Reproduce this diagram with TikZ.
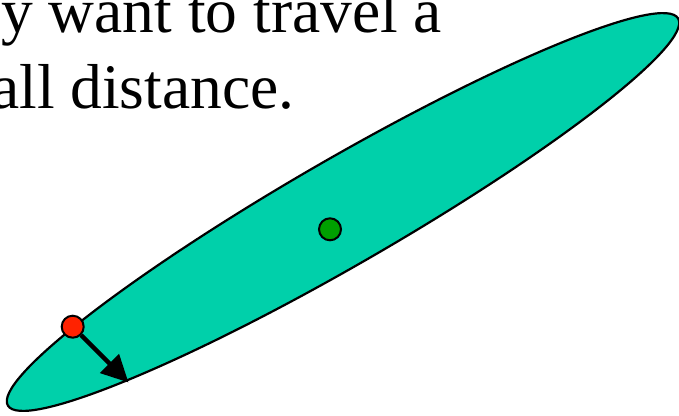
\documentclass[tikz,border=0pt]{standalone}
\usepackage{fontspec}
\setmainfont{Liberation Serif}
\usetikzlibrary{arrows.meta}
\definecolor{blobfill}{RGB}{0,208,170}
\definecolor{dotgreen}{RGB}{0,160,0}
\definecolor{dotred}{RGB}{255,34,0}
\begin{document}
\begin{tikzpicture}[x=1pt,y=-1pt,
  dot/.style={circle,draw=black,line width=2pt,minimum size=22pt,inner sep=0pt},
  bigtext/.style={anchor=base west,inner sep=0pt,font=\fontsize{63.5}{76}\selectfont}]
\useasboundingbox (0,0) rectangle (679,415);
\clip (0,0) rectangle (679,415);
\node[bigtext] (l1) at (1,32) {y want to travel a};
\node[bigtext] (l2) at (-9,108.3) {all distance.};
\draw[fill=blobfill, line width=2.2pt, rotate around={30:(343,212)}] (343,212) ellipse (387 and 53);
\node[dot, fill=dotgreen] (g) at (330,229.3) {};
\node[dot, fill=dotred] (r) at (72.7,326.7) {};
\coordinate (tip) at (128.5,382.5);
\draw[line width=4.5pt, -{Triangle[length=27pt,width=26pt]}] (r) -- (tip);
\end{tikzpicture}
\end{document}
